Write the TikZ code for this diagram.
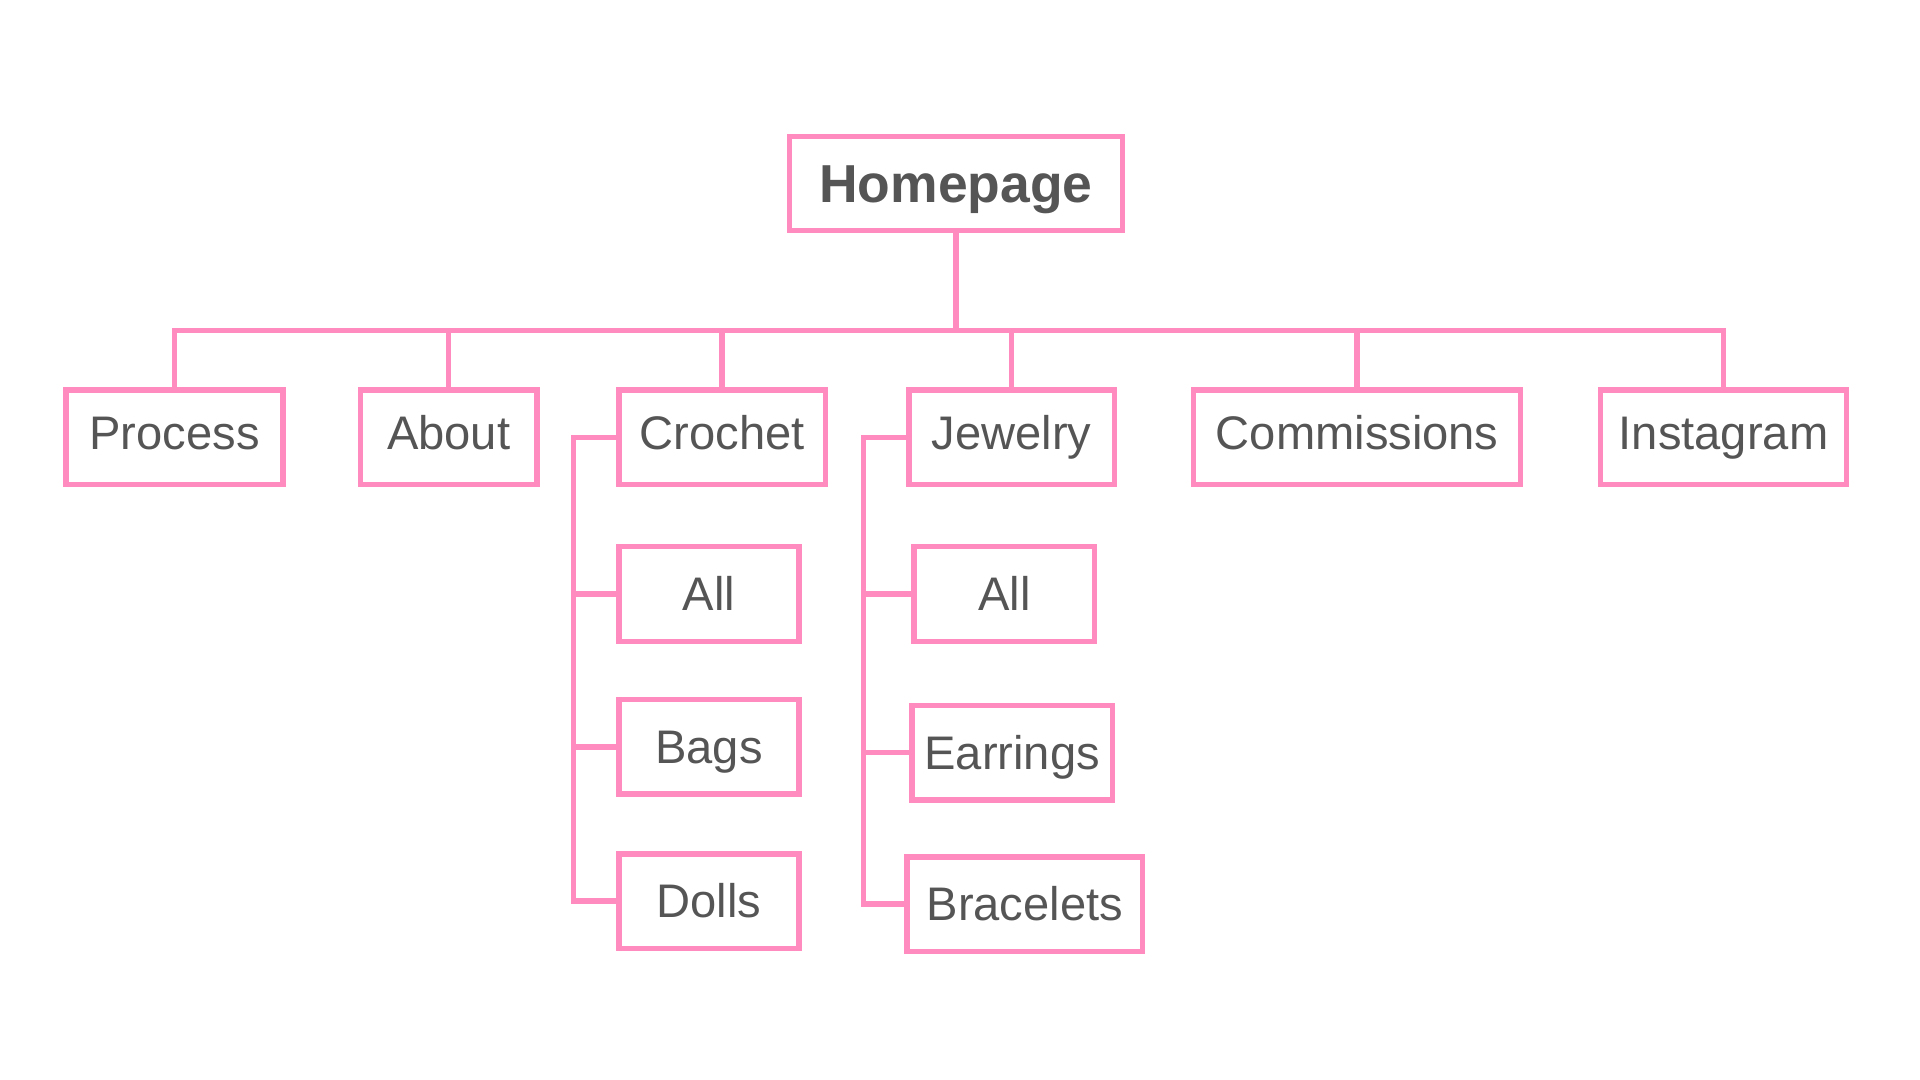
\documentclass[tikz,border=0pt]{standalone}
\usepackage{fontspec}
\setmainfont{Liberation Sans}
\usepackage{tikz}

\definecolor{pagepink}{HTML}{FF8BBF}
\definecolor{labelgray}{HTML}{555555}

\begin{document}
\begin{tikzpicture}[x=0.01cm,y=-0.01cm,
    page/.style={draw=pagepink,line width=0.055cm,inner sep=0pt,outer sep=0pt,
      text=labelgray,minimum height=0.945cm,text height=0.33cm,text depth=0.08cm,
      font=\fontsize{13.4}{16}\selectfont},
    subpage/.style={page,text depth=0cm},
    link/.style={draw=pagepink,line width=0.055cm}]

      % frame of the whole picture
      \useasboundingbox (0,0) rectangle (1920,1080);

      \node[page,minimum width=3.325cm,minimum height=0.935cm,%
        text height=0.38cm,text depth=0cm,%
        font=\fontsize{15.2}{18}\selectfont\bfseries] (home) at (956,183.5){%
        Homepage};

      % first level
      \node[page,minimum width=2.17cm] (proc) at (174.5,437.3){Process};
      \node[page,minimum width=1.763cm] (about) at (448.7,437.3){About};
      \node[page,minimum width=2.06cm] (croch) at (722.2,437.3){Crochet};
      \node[page,minimum width=2.053cm] (jewel) at (1011.6,437.3){Jewelry};
      \node[page,minimum width=3.268cm] (comm) at (1357.2,437.3){Commissions};
      \node[page,minimum width=2.461cm] (insta) at (1723.5,437.3){Instagram};

      % crochet pages
      \node[subpage,minimum width=1.795cm] (call) at (709,594){All};
      \node[subpage,minimum width=1.795cm] (cbags) at (709,746.9){Bags};
      \node[subpage,minimum width=1.795cm] (cdolls) at (709,901.2){Dolls};

      % jewelry pages
      \node[subpage,minimum width=1.803cm] (jall) at (1004.4,594){All};
      \node[subpage,minimum width=2.003cm] (jear) at (1012.1,752.7){Earrings};
      \node[subpage,minimum width=2.35cm] (jbrac) at (1024.8,904.2){Bracelets};

      % tree lines
      \foreach \t in {proc,about,croch,jewel,comm,insta}
        \draw[link] (home.south) -- ++(0,100) -| (\t.north);
      \foreach \t in {call,cbags,cdolls}
        \draw[link] (croch.west) -- ++(-45.5,0) |- (\t.west);
      \foreach \t in {jall,jear,jbrac}
        \draw[link] (jewel.west) -- ++(-45.5,0) |- (\t.west);

    \end{tikzpicture}
\end{document}
